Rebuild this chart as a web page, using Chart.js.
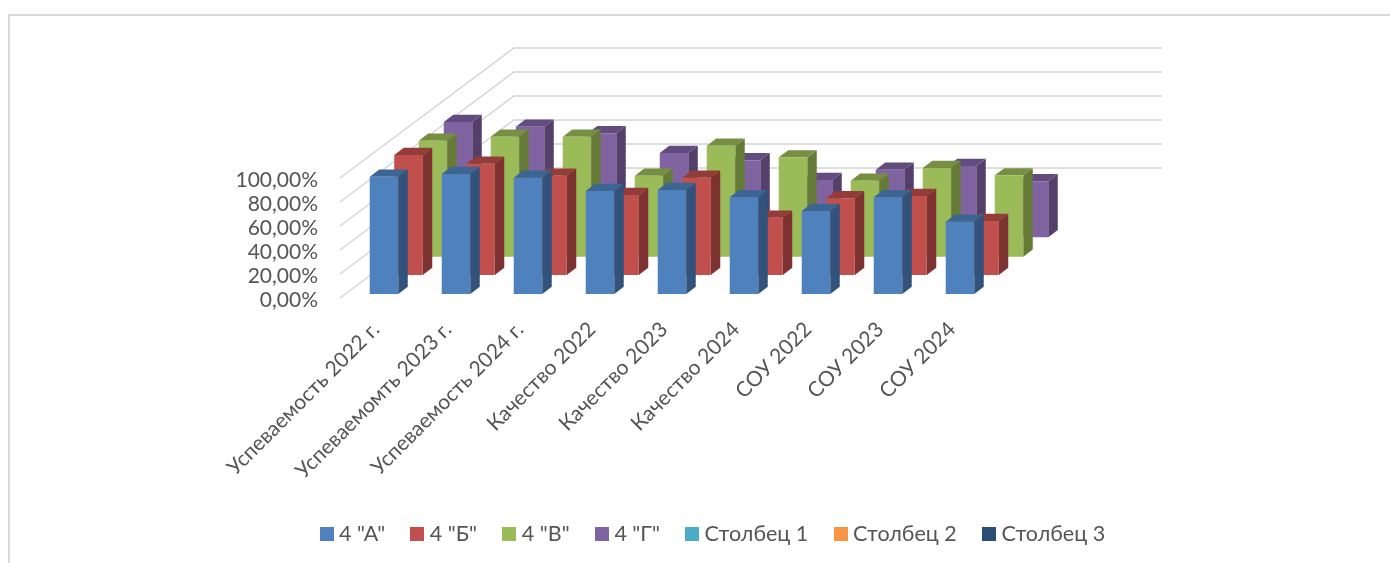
<!DOCTYPE html>
<html><head><meta charset="utf-8">
<script src="https://cdn.jsdelivr.net/npm/chart.js@4/dist/chart.umd.min.js"></script>
<style>
html,body{margin:0;padding:0;background:#fff;overflow:hidden}
#frame{position:absolute;left:8px;top:14px;right:-10px;bottom:-10px;border-left:2px solid #D9D9D9;border-top:2px solid #D9D9D9}
#wrap{position:absolute;left:0;top:0;width:1390px;height:563px}
</style></head><body>
<div id="frame"></div>
<div id="wrap"><canvas id="c" width="1390" height="563"></canvas></div>
<script>
const categories = ["Успеваемость 2022 г.","Успеваемомть 2023 г.","Успеваемость 2024 г.","Качество 2022","Качество 2023","Качество 2024","СОУ 2022","СОУ 2023","СОУ 2024"];
const seriesA = [97.8,100,96.9,85.8,86.7,80.6,69.2,80.6,60.3];
const seriesB = [100,92.8,82.8,66.7,81.1,47.8,63.9,65.8,45];
const seriesV = [96.7,100,100,67.5,92.5,82.8,63.3,73.9,67.8];
const seriesG = [96.1,92.2,86.7,70.3,64.2,47.8,56.3,59.4,46.7];
const seriesNames = ['4 "А"','4 "Б"','4 "В"','4 "Г"','Столбец 1','Столбец 2','Столбец 3'];
const yTicks = [0,20,40,60,80,100];
const colors = ['#4F81BD','#C0504D','#9BBB59','#8064A2','#4BACC6','#F79646','#2C4D75'];
const sideColors = ['#31527B','#7D3130','#667A37','#533F6A'];
const topColors = ['#3D6591','#943C3A','#778F43','#624C7F'];
const rowOffsets = [[8,-4],[32.5,-23],[57,-41.3],[82,-60.7]];
const barDepth = [9.5,7.2];
const wallDepth = [174,130];
const FONT = 'Lato, Carlito, Calibri, sans-serif';
const TEXT = '#555555';

function swatch(col){const k=document.createElement('canvas');k.width=14;k.height=14;const g=k.getContext('2d');g.fillStyle=col;g.fillRect(0,0,14,14);return k;}

const values = [seriesA,seriesB,seriesV,seriesG,[],[],[]];
const datasets = seriesNames.map((n,i)=>({label:n,data:values[i],backgroundColor:colors[i],clip:false}));

const walls = {id:'walls',beforeDatasetsDraw(chart){
  const {ctx,chartArea:a,scales:{y}} = chart;
  ctx.save();ctx.strokeStyle='#D4D4D4';ctx.lineWidth=1.5;
  yTicks.forEach(v=>{const py=y.getPixelForValue(v);
    ctx.beginPath();ctx.moveTo(a.left,py);ctx.lineTo(a.left+wallDepth[0],py-wallDepth[1]);ctx.lineTo(a.right+wallDepth[0],py-wallDepth[1]);ctx.stroke();});
  ctx.restore();
}};
const bars3d = {id:'bars3d',
  beforeDatasetDraw(chart,{index,meta}){
    const off=rowOffsets[index]; if(!off) return;
    const ctx=chart.ctx; ctx.save(); ctx.translate(off[0],off[1]);
    const [dx,dy]=barDepth;
    meta.data.forEach(el=>{
      const l=el.x-el.width/2,r=el.x+el.width/2,t=el.y,b=el.base;
      ctx.fillStyle=sideColors[index];ctx.beginPath();ctx.moveTo(r,t);ctx.lineTo(r+dx,t-dy);ctx.lineTo(r+dx,b-dy);ctx.lineTo(r,b);ctx.closePath();ctx.fill();
      ctx.fillStyle=topColors[index];ctx.beginPath();ctx.moveTo(l,t);ctx.lineTo(l+dx,t-dy);ctx.lineTo(r+dx,t-dy);ctx.lineTo(r,t);ctx.closePath();ctx.fill();
    });
  },
  afterDatasetDraw(chart,{index}){ if(rowOffsets[index]) chart.ctx.restore(); }
};
const legendPlace = {id:'legendPlace',afterLayout(chart){
  const l=chart.legend; l.left=100; l.right=1330; l.top=492.5; l.bottom=492.5+l.height;
  chart.scales.x.bottom=520;
}};

new Chart(document.getElementById('c'),{
  type:'bar',
  data:{labels:categories,datasets},
  plugins:[walls,bars3d,legendPlace],
  options:{
    responsive:false,animation:false,
    layout:{padding:{left:0,right:402,top:178,bottom:0}},
    datasets:{bar:{grouped:false,categoryPercentage:1,barPercentage:0.396,borderWidth:0}},
    plugins:{
      tooltip:{enabled:false},
      legend:{position:'bottom',labels:{
        font:{family:FONT,size:21.5},color:TEXT,usePointStyle:true,pointStyleWidth:3.5,boxHeight:14,padding:30.5,
        generateLabels(chart){return chart.data.datasets.map((d,i)=>({text:d.label,fillStyle:colors[i],strokeStyle:colors[i],lineWidth:0,pointStyle:swatch(colors[i]),datasetIndex:i,fontColor:TEXT,hidden:false}));}
      }}
    },
    scales:{
      x:{grid:{display:false,drawTicks:false},border:{display:false},
        afterFit(s){s.height=563-298-(s.chart.legend?s.chart.legend.height:0);},
        ticks:{autoSkip:false,minRotation:45,maxRotation:45,padding:19,color:TEXT,font:{family:FONT,size:21}}},
      y:{min:0,max:100,grid:{display:false,drawTicks:false},border:{display:false},
        afterFit(s){s.width=340;},
        afterBuildTicks(s){s.ticks=yTicks.map(v=>({value:v}));},
        ticks:{autoSkip:false,padding:22,labelOffset:2,color:TEXT,font:{family:FONT,size:21},callback:v=>v.toFixed(2).replace('.',',')+'%'}}
    }
  }
});
</script></body></html>
